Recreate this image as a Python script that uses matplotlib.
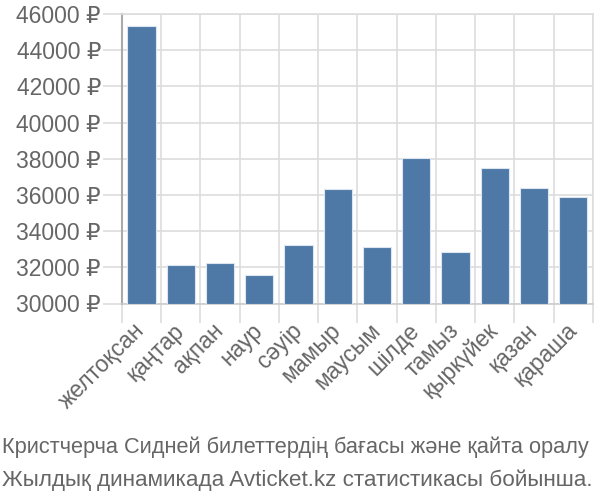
import matplotlib
matplotlib.use('Agg')
import matplotlib.pyplot as plt
import numpy as np

plt.rcParams['font.family'] = ['Liberation Sans', 'DejaVu Sans']

# айлар және бағалар
months = ['желтоқсан', 'қаңтар', 'ақпан', 'наур', 'сәуір', 'мамыр',
          'маусым', 'шілде', 'тамыз', 'қыркүйек', 'қазан', 'қараша']
prices = [45320, 32140, 32230, 31600, 33220, 36320,
          33150, 38030, 32870, 37500, 36410, 35860]
yticks = list(range(30000, 46001, 2000))
caption = ['Кристчерча Сидней билеттердің бағасы және қайта оралу',
           'Жылдық динамикада Avticket.kz статистикасы бойынша.']

txt = '#666666'
grid = '#dddddd'

fig = plt.figure(figsize=(6, 5), dpi=100)
ax = fig.add_axes([0.203, 0.393, 0.785, 0.579])

x = np.arange(len(months))
ax.bar(x, np.array(prices) - 30000, bottom=30000, width=0.72,
       color='#4e79a7', edgecolor='#dde6f0', linewidth=0.8, zorder=3)

ax.set_xlim(-0.5, len(months) - 0.5)
ax.set_ylim(30000, 46000)
ax.set_yticks(yticks)
ax.set_yticklabels([f'{v} ₽' for v in yticks])

# подписи в центре, линии сетки на границах
ax.set_xticks(x)
ax.set_xticklabels(months, rotation=45, ha='right', va='center', rotation_mode='anchor')
ax.set_xticks(np.arange(-0.5, len(months)), minor=True)
ax.tick_params(axis='x', which='major', length=0, pad=17, labelsize=16.5, labelcolor=txt)
ax.tick_params(axis='x', which='minor', length=14, color=grid, width=1.2)
ax.tick_params(axis='y', length=14, color=grid, width=1.2, labelsize=16.5, labelcolor=txt, pad=1)

ax.grid(True, axis='y', color=grid, linewidth=1.2, zorder=0)
ax.grid(True, axis='x', which='minor', color=grid, linewidth=1.2, zorder=0)
for s in ['top', 'right']:
    ax.spines[s].set_color(grid)
    ax.spines[s].set_linewidth(1.2)
ax.spines['left'].set_color('#aaaaaa')
ax.spines['left'].set_linewidth(1.5)
ax.spines['bottom'].set_color('#cccccc')
ax.spines['bottom'].set_linewidth(1.2)

fig.text(0.004, 0.106, caption[0], ha='left', va='center', fontsize=15.7, color=txt)
fig.text(0.004, 0.040, caption[1], ha='left', va='center', fontsize=16.2, color=txt)

fig.savefig('out.png', dpi=100)
